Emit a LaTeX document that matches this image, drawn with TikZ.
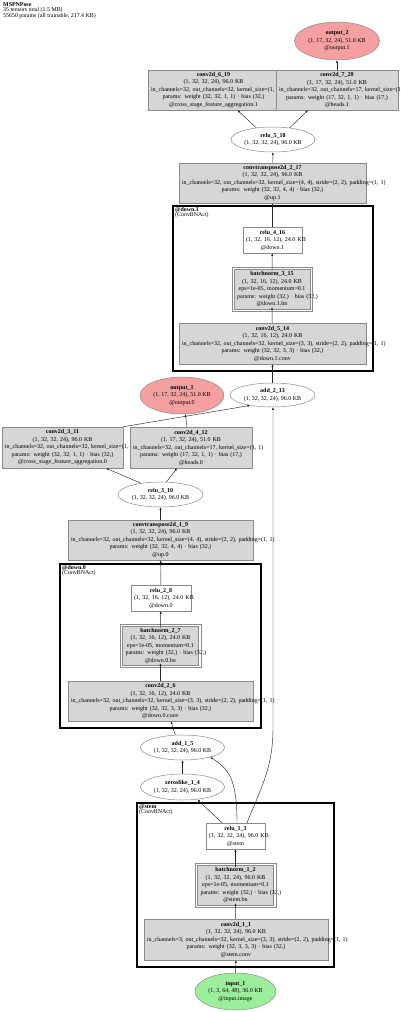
\documentclass[tikz,border=0pt]{standalone}
\usepackage{fontspec}
\setmainfont{Liberation Serif}
\usetikzlibrary{shapes.geometric,arrows.meta}
\definecolor{gfill}{HTML}{D6D6D6}
\definecolor{gdraw}{HTML}{8A8A8A}
\definecolor{ofill}{HTML}{F4A0A0}
\definecolor{ifill}{HTML}{9CEE9C}
\newcommand\nf{\fontsize{6.0}{7.5}\selectfont}
\newcommand\ml[1]{\mbox{#1}}
\tikzset{
  gbox/.style n args={3}{rectangle, draw=gdraw, fill=gfill, line width=0.5pt,
    minimum width=#1, minimum height=#2, text width=#3, inner xsep=3pt,
    inner ysep=0pt, align=center, font=\nf},
  wbox/.style n args={3}{gbox={#1}{#2}{#3}, fill=white},
  outerline/.style={draw=gdraw, line width=0.5pt},
  ell/.style 2 args={ellipse, draw=gdraw, fill=white, line width=0.5pt,
    minimum width=#1, minimum height=#2, inner sep=0pt, align=center, font=\nf},
  cluster/.style={draw=black, line width=2pt},
  clabel/.style={anchor=north west, inner sep=0pt, align=left, font=\fontsize{5.9}{5.3}\selectfont},
  edge/.style={draw=black!85, line width=0.45pt, -{Latex[length=2.6pt,width=2.2pt]}},
}
\begin{document}
\begin{tikzpicture}[x=1pt,y=-1pt]
\useasboundingbox (0,0) rectangle (400,1012);
% title
\node[clabel] (title) at (3,2) {\textbf{MSPNPose}\\35 tensors total (1.5 MB)\\55650 params (all trainable, 217.4 KB)};
% clusters
\draw[cluster] (173,206) rectangle (373,371);
\node[clabel] (lab_down1) at (175,207) {\textbf{@down.1}\\(ConvBNAct)};
\draw[cluster] (60,564) rectangle (261,728);
\node[clabel] (lab_down0) at (62,565) {\textbf{@down.0}\\(ConvBNAct)};
\draw[cluster] (137,803) rectangle (334,967);
\node[clabel] (lab_stem) at (139,804) {\textbf{@stem}\\(ConvBNAct)};
% nodes
\node[ell={85pt}{38pt}, fill=ofill] (output_2) at (337,41) {\textbf{output\_2}\\(1, 17, 32, 24), 51.0 KB\\@output.1};
\node[gbox={131pt}{40pt}{125pt}] (conv2d_6_19) at (213.5,90) {\textbf{conv2d\_6\_19}\\\ml{(1, 32, 32, 24), 96.0 KB}\\\ml{in\_channels=32, out\_channels=32, kernel\_size=(1, 1)}\\\ml{params: weight (32, 32, 1, 1) · bias (32,)}\\\ml{@cross\_stage\_feature\_aggregation.1}};
\node[gbox={122pt}{40pt}{116pt}] (conv2d_7_20) at (337,90) {\textbf{conv2d\_7\_20}\\\ml{(1, 17, 32, 24), 51.0 KB}\\\ml{in\_channels=32, out\_channels=17, kernel\_size=(1, 1)}\\\ml{params: weight (17, 32, 1, 1) · bias (17,)}\\\ml{@heads.1}};
\node[ell={84pt}{25pt}] (relu_5_18) at (273,139.5) {\textbf{relu\_5\_18}\\(1, 32, 32, 24), 96.0 KB};
\node[gbox={187pt}{40pt}{181pt}] (convtranspose2d_2_17) at (272.5,183) {\textbf{convtranspose2d\_2\_17}\\\ml{(1, 32, 32, 24), 96.0 KB}\\\ml{in\_channels=32, out\_channels=32, kernel\_size=(4, 4), stride=(2, 2), padding=(1, 1)}\\\ml{params: weight (32, 32, 4, 4) · bias (32,)}\\\ml{@up.1}};
\node[wbox={59pt}{26pt}{53pt}] (relu_4_16) at (272.5,240) {\textbf{relu\_4\_16}\\\ml{(1, 32, 16, 12), 24.0 KB}\\\ml{@down.1}};
\node[gbox={76pt}{40pt}{70pt}] (batchnorm_3_15) at (272,289) {\textbf{batchnorm\_3\_15}\\\ml{(1, 32, 16, 12), 24.0 KB}\\\ml{eps=1e-05, momentum=0.1}\\\ml{params: weight (32,) · bias (32,)}\\\ml{@down.1.bn}};
\draw[outerline] ([shift={(-2,-2)}]batchnorm_3_15.north west) rectangle ([shift={(2,2)}]batchnorm_3_15.south east);
\node[gbox={187pt}{41pt}{181pt}] (conv2d_5_14) at (272.5,343.5) {\textbf{conv2d\_5\_14}\\\ml{(1, 32, 16, 12), 24.0 KB}\\\ml{in\_channels=32, out\_channels=32, kernel\_size=(3, 3), stride=(2, 2), padding=(1, 1)}\\\ml{params: weight (32, 32, 3, 3) · bias (32,)}\\\ml{@down.1.conv}};
\node[ell={84pt}{37pt}, fill=ofill] (output_1) at (182,395.5) {\textbf{output\_1}\\(1, 17, 32, 24), 51.0 KB\\@output.0};
\node[ell={85pt}{24pt}] (add_2_13) at (272.5,395) {\textbf{add\_2\_13}\\(1, 32, 32, 24), 96.0 KB};
\node[gbox={121pt}{41pt}{115pt}] (conv2d_3_11) at (62.5,447.5) {\textbf{conv2d\_3\_11}\\\ml{(1, 32, 32, 24), 96.0 KB}\\\ml{in\_channels=32, out\_channels=32, kernel\_size=(1, 1)}\\\ml{params: weight (32, 32, 1, 1) · bias (32,)}\\\ml{@cross\_stage\_feature\_aggregation.0}};
\node[gbox={122pt}{41pt}{116pt}] (conv2d_4_12) at (191,447.5) {\textbf{conv2d\_4\_12}\\\ml{(1, 17, 32, 24), 51.0 KB}\\\ml{in\_channels=32, out\_channels=17, kernel\_size=(1, 1)}\\\ml{params: weight (17, 32, 1, 1) · bias (17,)}\\\ml{@heads.0}};
\node[ell={85pt}{25pt}] (relu_3_10) at (160.5,494.5) {\textbf{relu\_3\_10}\\(1, 32, 32, 24), 96.0 KB};
\node[gbox={185pt}{40pt}{179pt}] (convtranspose2d_1_9) at (160.5,540) {\textbf{convtranspose2d\_1\_9}\\\ml{(1, 32, 32, 24), 96.0 KB}\\\ml{in\_channels=32, out\_channels=32, kernel\_size=(4, 4), stride=(2, 2), padding=(1, 1)}\\\ml{params: weight (32, 32, 4, 4) · bias (32,)}\\\ml{@up.0}};
\node[wbox={60pt}{26pt}{54pt}] (relu_2_8) at (161,598) {\textbf{relu\_2\_8}\\\ml{(1, 32, 16, 12), 24.0 KB}\\\ml{@down.0}};
\node[gbox={76pt}{39pt}{70pt}] (batchnorm_2_7) at (160.5,645.5) {\textbf{batchnorm\_2\_7}\\\ml{(1, 32, 16, 12), 24.0 KB}\\\ml{eps=1e-05, momentum=0.1}\\\ml{params: weight (32,) · bias (32,)}\\\ml{@down.0.bn}};
\draw[outerline] ([shift={(-2,-2)}]batchnorm_2_7.north west) rectangle ([shift={(2,2)}]batchnorm_2_7.south east);
\node[gbox={185pt}{40pt}{179pt}] (conv2d_2_6) at (160.5,701) {\textbf{conv2d\_2\_6}\\\ml{(1, 32, 16, 12), 24.0 KB}\\\ml{in\_channels=32, out\_channels=32, kernel\_size=(3, 3), stride=(2, 2), padding=(1, 1)}\\\ml{params: weight (32, 32, 3, 3) · bias (32,)}\\\ml{@down.0.conv}};
\node[ell={84pt}{25pt}] (add_1_5) at (182.5,747.5) {\textbf{add\_1\_5}\\(1, 32, 32, 24), 96.0 KB};
\node[ell={84pt}{26pt}] (zeroslike_1_4) at (182.5,787) {\textbf{zeroslike\_1\_4}\\(1, 32, 32, 24), 96.0 KB};
\node[wbox={59pt}{26pt}{53pt}] (relu_1_3) at (235.5,836) {\textbf{relu\_1\_3}\\\ml{(1, 32, 32, 24), 96.0 KB}\\\ml{@stem}};
\node[gbox={76pt}{40pt}{70pt}] (batchnorm_1_2) at (235.5,885) {\textbf{batchnorm\_1\_2}\\\ml{(1, 32, 32, 24), 96.0 KB}\\\ml{eps=1e-05, momentum=0.1}\\\ml{params: weight (32,) · bias (32,)}\\\ml{@stem.bn}};
\draw[outerline] ([shift={(-2,-2)}]batchnorm_1_2.north west) rectangle ([shift={(2,2)}]batchnorm_1_2.south east);
\node[gbox={184pt}{41pt}{178pt}] (conv2d_1_1) at (236,939.5) {\textbf{conv2d\_1\_1}\\\ml{(1, 32, 32, 24), 96.0 KB}\\\ml{in\_channels=3, out\_channels=32, kernel\_size=(3, 3), stride=(2, 2), padding=(1, 1)}\\\ml{params: weight (32, 3, 3, 3) · bias (32,)}\\\ml{@stem.conv}};
\node[ell={81pt}{37pt}, fill=ifill] (input_1) at (235.5,991.5) {\textbf{input\_1}\\(1, 3, 64, 48), 36.0 KB\\@input.image};
% edges
\draw[edge] (input_1) -- (conv2d_1_1);
\draw[edge] (conv2d_1_1) -- ([yshift=2pt]batchnorm_1_2.south);
\draw[edge] ([yshift=-2pt]batchnorm_1_2.north) -- (relu_1_3);
\draw[edge] ([xshift=-13.5pt]relu_1_3.north) -- (zeroslike_1_4.-40);
\draw[edge] ([xshift=1.5pt]relu_1_3.north) .. controls +(0,-45) and +(18,12) .. (add_1_5.-19);
\coordinate (bend) at (273,728);
\draw[edge] ([xshift=11.5pt]relu_1_3.north) .. controls +(14,-35) and +(0,40) .. (bend) -- (bend |- add_2_13.south);
\draw[edge] (zeroslike_1_4) -- (add_1_5);
\draw[edge] (add_1_5.120) -- ([xshift=10.5pt]conv2d_2_6.south);
\draw[edge] (conv2d_2_6) -- ([yshift=2pt]batchnorm_2_7.south);
\draw[edge] ([yshift=-2pt]batchnorm_2_7.north) -- (relu_2_8);
\draw[edge] (relu_2_8) -- (convtranspose2d_1_9);
\draw[edge] (convtranspose2d_1_9) -- (relu_3_10);
\draw[edge] (relu_3_10.150) -- ([xshift=43.5pt]conv2d_3_11.south);
\draw[edge] (relu_3_10.65) -- ([xshift=-14pt]conv2d_4_12.south);
\draw[edge] ([xshift=-4pt]conv2d_4_12.north) -- (output_1.-80);
\draw[edge] (conv2d_3_11.north east) -- (add_2_13.205);
\draw[edge] (add_2_13) -- (conv2d_5_14);
\draw[edge] (conv2d_5_14) -- ([yshift=2pt]batchnorm_3_15.south);
\draw[edge] ([yshift=-2pt]batchnorm_3_15.north) -- (relu_4_16);
\draw[edge] (relu_4_16) -- (convtranspose2d_2_17);
\draw[edge] (convtranspose2d_2_17) -- (relu_5_18);
\draw[edge] (relu_5_18.145) -- ([xshift=24pt]conv2d_6_19.south);
\draw[edge] (relu_5_18.35) -- ([xshift=-29pt]conv2d_7_20.south);
\draw[edge] (conv2d_7_20) -- (output_2);
\end{tikzpicture}
\end{document}
